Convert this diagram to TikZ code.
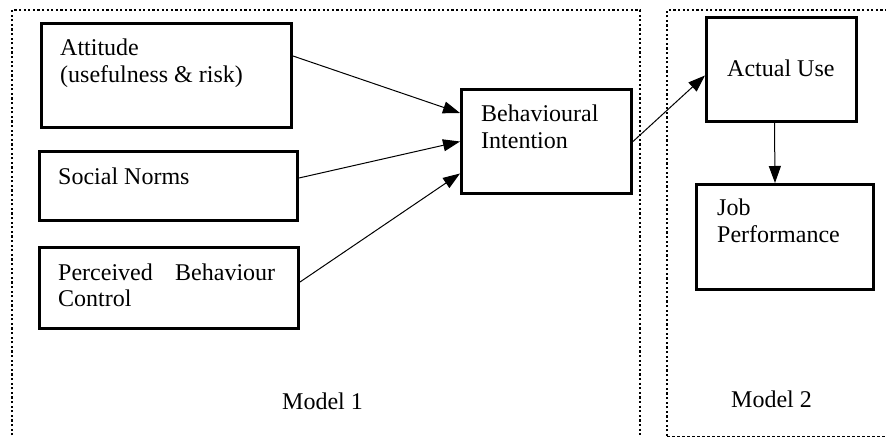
\documentclass[tikz,border=0pt]{standalone}
\usepackage{fontspec}
\setmainfont{Liberation Serif}
\usetikzlibrary{arrows.meta}

\begin{document}
\begin{tikzpicture}[x=1pt,y=-1pt,
  font=\fontsize{24}{27}\selectfont,
  blk/.style={draw,line width=3pt,inner sep=0pt,anchor=north west},
  txt/.style={anchor=base west,align=left,inner sep=0pt},
  arr/.style={-{Triangle[length=17pt,width=12pt]},line width=1pt},
  frame/.style={line width=2.4pt,dash pattern=on 2.2pt off 2.4pt}]
  \useasboundingbox (0,0) rectangle (886,438);
  % model frames
  \draw[frame] (12,440) -- (12,10) -- (640,10) -- (640,440);
  \draw[frame] (667,436) -- (667,10) -- (890,10);
  \draw[line width=1pt,dash pattern=on 3pt off 2pt] (667,436) -- (890,436);
  % boxes: name / corner / size
  \foreach \n/\p/\w/\h in {
     att/{(40,22)}/250/104,
     soc/{(38,150)}/258/69,
     pbc/{(38,246)}/259/81,
     bi/{(460,88)}/170/104,
     use/{(705,16)}/150/104,
     job/{(695,183)}/177/105}{
       \node[blk,minimum width=\w pt,minimum height=\h pt] (\n) at \p {};
  }
  \node[txt] (attT) at ([shift={(20,61)}]att.north west) {Attitude\\(usefulness \& risk)};
  \node[txt] (socT) at ([shift={(20,35)}]soc.north west) {Social Norms};
  \node[txt] (pbcT) at ([shift={(20,61)}]pbc.north west) {\makebox[217pt][s]{Perceived Behaviour}\\Control};
  \node[txt] (biT) at ([shift={(21,61)}]bi.north west) {Behavioural\\Intention};
  \node[txt] (useT) at ([shift={(22,61)}]use.north west) {Actual Use};
  \node[txt] (jobT) at ([shift={(22,60)}]job.north west) {Job\\Performance};
  \node[txt] (m1) at (282,409) {Model 1};
  \node[txt] (m2) at (731,407) {Model 2};
  % arrows
  \draw[arr] ([yshift=-34pt]att.north east) -- ([yshift=-25pt]bi.north west);
  \draw[arr] ([yshift=8pt]soc.east) -- (bi.west);
  \draw[arr] ([yshift=6pt]pbc.east) -- ([yshift=-32pt]bi.west);
  \draw[arr] (bi.east) -- ([yshift=-6pt]use.west);
  \draw[arr] ([xshift=-7pt]use.south) -- ([xshift=-10pt]job.north);
\end{tikzpicture}
\end{document}
